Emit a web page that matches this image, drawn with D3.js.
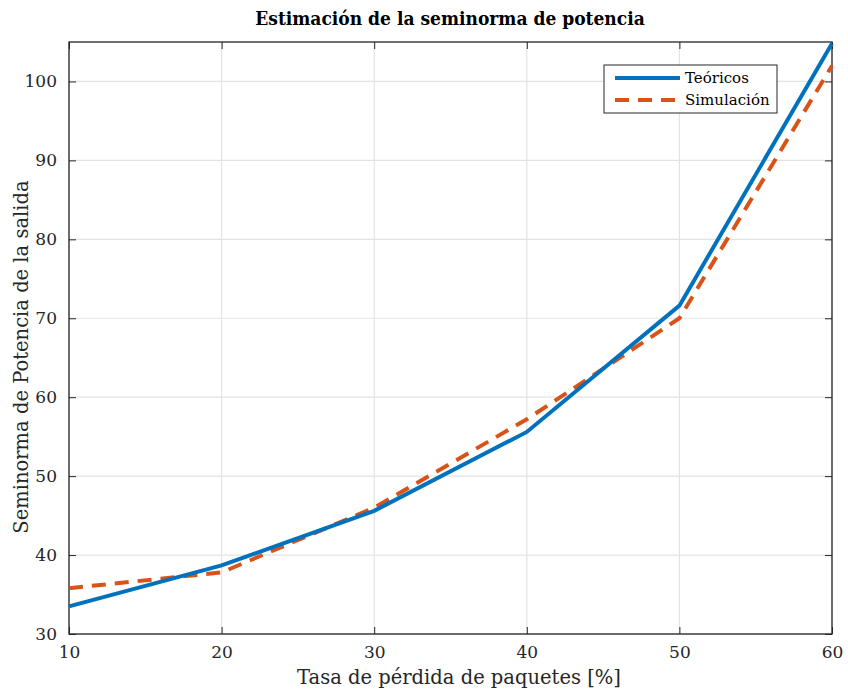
<!DOCTYPE html>
<html>
<head>
<meta charset="utf-8">
<script src="https://cdn.jsdelivr.net/npm/d3@7"></script>
<style>
  body { margin: 0; background: #fff; }
  svg { display: block; }
  svg text { font-family: "DejaVu Serif", "Liberation Serif", serif; }
</style>
</head>
<body>
<svg id="chart" width="848" height="694"></svg>
<script>
// Packet loss rate (%) on the x axis
const lossRate = [10, 20, 30, 40, 50, 60];
// Output power seminorm: theoretical values
const teoricos = [33.5, 38.7, 45.6, 55.6, 71.6, 104.8];
// Output power seminorm: simulated values
const simulacion = [35.8, 37.8, 46.0, 57.2, 70.0, 102.0];
const xTicks = [10, 20, 30, 40, 50, 60];
const yTicks = [30, 40, 50, 60, 70, 80, 90, 100];

const svg = d3.select("#chart");
const m = { left: 69, top: 42, right: 832, bottom: 634 };

const x = d3.scaleLinear().domain([10, 60]).range([m.left, m.right]);
const y = d3.scaleLinear().domain([30, 105]).range([m.bottom, m.top]);

// grid
const grid = svg.append("g").attr("stroke", "#e3e3e3").attr("stroke-width", 1.2);
grid.selectAll(".gx").data(xTicks).join("line")
  .attr("x1", d => x(d)).attr("x2", d => x(d)).attr("y1", m.top).attr("y2", m.bottom);
grid.selectAll(".gy").data(yTicks).join("line")
  .attr("x1", m.left).attr("x2", m.right).attr("y1", d => y(d)).attr("y2", d => y(d));

// axes
const axisStyle = g => {
  g.attr("font-family", null);
  g.select(".domain").remove();
  g.selectAll(".tick line").attr("stroke", "#262626").attr("stroke-width", 1);
  g.selectAll(".tick text").attr("fill", "#262626").attr("font-size", 17);
};
svg.append("g").attr("transform", `translate(0,${m.bottom})`)
  .call(d3.axisBottom(x).tickValues(xTicks).tickSize(-7).tickPadding(12))
  .call(axisStyle);
svg.append("g").attr("transform", `translate(0,${m.top})`)
  .call(d3.axisTop(x).tickValues(xTicks).tickSize(-7).tickFormat(""))
  .call(axisStyle);
svg.append("g").attr("transform", `translate(${m.left},0)`)
  .call(d3.axisLeft(y).tickValues(yTicks).tickSize(-7).tickPadding(12))
  .call(axisStyle);
svg.append("g").attr("transform", `translate(${m.right},0)`)
  .call(d3.axisRight(y).tickValues(yTicks).tickSize(-7).tickFormat(""))
  .call(axisStyle);

svg.append("rect")
  .attr("x", m.left).attr("y", m.top)
  .attr("width", m.right - m.left).attr("height", m.bottom - m.top)
  .attr("fill", "none").attr("stroke", "#262626").attr("stroke-width", 1.3);

// series
const line = d3.line().x((d, i) => x(lossRate[i])).y(d => y(d));
svg.append("path").datum(simulacion).attr("d", line)
  .attr("fill", "none").attr("stroke", "#d95319").attr("stroke-width", 4)
  .attr("stroke-dasharray", "14,9");
svg.append("path").datum(teoricos).attr("d", line)
  .attr("fill", "none").attr("stroke", "#0072bd").attr("stroke-width", 4);

// title and axis labels
svg.append("text").attr("x", 450).attr("y", 25).attr("text-anchor", "middle")
  .style("font-family", "'DejaVu Serif Condensed', 'DejaVu Serif', serif")
  .attr("font-weight", 600)
  .attr("font-size", 19).attr("fill", "#000")
  .text("Estimación de la seminorma de potencia");
svg.append("text").attr("x", 459).attr("y", 684).attr("text-anchor", "middle")
  .attr("font-size", 19.5).attr("fill", "#262626")
  .text("Tasa de pérdida de paquetes [%]");
svg.append("text").attr("transform", `translate(28,357) rotate(-90)`)
  .attr("text-anchor", "middle").attr("font-size", 19.5).attr("fill", "#262626")
  .text("Seminorma de Potencia de la salida");

// legend
const lg = svg.append("g").attr("transform", "translate(604,65)");
lg.append("rect").attr("width", 173).attr("height", 48)
  .attr("fill", "#fff").attr("stroke", "#262626").attr("stroke-width", 1);
const items = [
  { name: "Teóricos", color: "#0072bd", dash: null },
  { name: "Simulación", color: "#d95319", dash: "14,9" }
];
items.forEach((it, i) => {
  const yy = 13 + i * 22;
  lg.append("line").attr("x1", 11).attr("x2", 76).attr("y1", yy).attr("y2", yy)
    .attr("stroke", it.color).attr("stroke-width", 4)
    .attr("stroke-dasharray", it.dash);
  lg.append("text").attr("x", 81).attr("y", yy + 5).attr("font-size", 15)
    .attr("fill", "#000").text(it.name);
});
</script>
</body>
</html>
